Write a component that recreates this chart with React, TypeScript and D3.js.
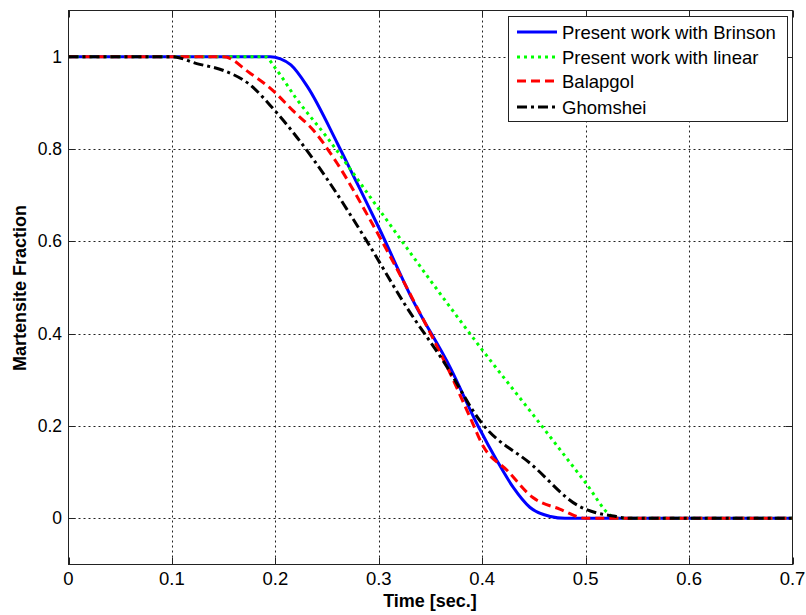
import React from "react";
import * as d3 from "d3";

const brinsonT = [0, 0.195, 0.205, 0.215, 0.231, 0.26, 0.277, 0.3, 0.333, 0.369, 0.396, 0.414, 0.43, 0.446, 0.466, 0.48, 0.7];
const brinsonY = [1, 1, 0.995, 0.982, 0.935, 0.812, 0.735, 0.63, 0.472, 0.327, 0.2, 0.126, 0.067, 0.024, 0.004, 0, 0];

const linearT = [0, 0.19, 0.2, 0.22, 0.25, 0.3, 0.35, 0.4, 0.45, 0.5, 0.525, 0.53, 0.7];
const linearY = [1, 1, 0.975, 0.91, 0.825, 0.67, 0.515, 0.365, 0.222, 0.077, 0.005, 0, 0];

const balapgolT = [0, 0.15, 0.175, 0.198, 0.217, 0.237, 0.26, 0.292, 0.337, 0.369, 0.388, 0.401, 0.424, 0.449, 0.475, 0.5, 0.7];
const balapgolY = [1, 1, 0.965, 0.926, 0.883, 0.84, 0.768, 0.645, 0.457, 0.314, 0.22, 0.156, 0.104, 0.045, 0.02, 0, 0];

const ghomsheiT = [0, 0.1, 0.124, 0.15, 0.175, 0.198, 0.221, 0.25, 0.288, 0.327, 0.362, 0.4, 0.447, 0.494, 0.51, 0.527, 0.54, 0.7];
const ghomsheiY = [1, 1, 0.985, 0.97, 0.94, 0.887, 0.825, 0.735, 0.602, 0.457, 0.342, 0.205, 0.118, 0.026, 0.012, 0.005, 0, 0];

const xTicks = [0, 0.1, 0.2, 0.3, 0.4, 0.5, 0.6, 0.7];
const yTicks = [0, 0.2, 0.4, 0.6, 0.8, 1];
const xTickLabels = ["0", "0.1", "0.2", "0.3", "0.4", "0.5", "0.6", "0.7"];
const yTickLabels = ["0", "0.2", "0.4", "0.6", "0.8", "1"];

const seriesNames = ["Present work with Brinson", "Present work with linear", "Balapgol", "Ghomshei"];
const seriesColors = ["#0000ff", "#00ff00", "#ff0000", "#000000"];
const seriesDash = ["none", "3,4", "9,5", "10,4,3,4"];

const FONT = "'Liberation Sans', Arial, Helvetica, sans-serif";

export default function App() {
  const W = 806, H = 615;
  const left = 68.5, right = 792.5, top = 10.5, bottom = 564.5;
  const x = d3.scaleLinear().domain([0, 0.7]).range([left, right]);
  const y = d3.scaleLinear().domain([-0.1, 1.1]).range([bottom, top]);

  const series = [
    brinsonT.map((t, i) => [t, brinsonY[i]]),
    linearT.map((t, i) => [t, linearY[i]]),
    balapgolT.map((t, i) => [t, balapgolY[i]]),
    ghomsheiT.map((t, i) => [t, ghomsheiY[i]]),
  ] as [number, number][][];

  const line = d3
    .line<[number, number]>()
    .x((d) => x(d[0]))
    .y((d) => y(d[1]))
    .curve(d3.curveMonotoneX);

  const tickLen = 7;
  const legX = 508.5, legY = 16.5, legW = 279, legH = 105;
  const rowY = [32, 57, 81, 107];

  return (
    <svg
      width={W}
      height={H}
      style={{ position: "absolute", left: 0, top: 0, background: "#fff" }}
      fontFamily={FONT}
    >
      <rect x={0} y={0} width={W} height={H} fill="#fff" />
      {/* grid */}
      {xTicks.slice(1, -1).map((t) => (
        <line key={"gx" + t} x1={Math.round(x(t)) + 0.5} x2={Math.round(x(t)) + 0.5} y1={top} y2={bottom} stroke="#222" strokeWidth={1} strokeDasharray="2,3" />
      ))}
      {yTicks.map((t) => (
        <line key={"gy" + t} x1={left} x2={right} y1={Math.round(y(t)) + 0.5} y2={Math.round(y(t)) + 0.5} stroke="#222" strokeWidth={1} strokeDasharray="2,3" />
      ))}
      {/* ticks */}
      {xTicks.map((t) => (
        <g key={"tx" + t}>
          <line x1={Math.round(x(t)) + 0.5} x2={Math.round(x(t)) + 0.5} y1={bottom} y2={bottom - tickLen} stroke="#222" />
          <line x1={Math.round(x(t)) + 0.5} x2={Math.round(x(t)) + 0.5} y1={top} y2={top + tickLen} stroke="#222" />
        </g>
      ))}
      {yTicks.map((t) => (
        <g key={"ty" + t}>
          <line x1={left} x2={left + tickLen} y1={Math.round(y(t)) + 0.5} y2={Math.round(y(t)) + 0.5} stroke="#222" />
          <line x1={right} x2={right - tickLen} y1={Math.round(y(t)) + 0.5} y2={Math.round(y(t)) + 0.5} stroke="#222" />
        </g>
      ))}
      {/* series */}
      {series.map((s, i) => (
        <path
          key={"s" + i}
          d={line(s) || ""}
          fill="none"
          stroke={seriesColors[i]}
          strokeWidth={3}
          strokeDasharray={seriesDash[i]}
          strokeLinejoin="round"
        />
      ))}
      {/* frame */}
      <rect x={left} y={top} width={right - left} height={bottom - top} fill="none" stroke="#222" strokeWidth={1} />
      {/* tick labels */}
      {xTicks.map((t, i) => (
        <text key={"lx" + t} x={x(t)} y={585} fontSize={18.5} textAnchor="middle" fill="#000">
          {xTickLabels[i]}
        </text>
      ))}
      {yTicks.map((t, i) => (
        <text key={"ly" + t} x={62} y={y(t) + 6} fontSize={17.5} textAnchor="end" fill="#000">
          {yTickLabels[i]}
        </text>
      ))}
      {/* axis labels */}
      <text x={430} y={607} fontSize={18} fontWeight="bold" textAnchor="middle" fill="#000">
        Time [sec.]
      </text>
      <text
        transform="translate(26,288) rotate(-90)"
        fontSize={18}
        fontWeight="bold"
        textAnchor="middle"
        fill="#000"
      >
        Martensite Fraction
      </text>
      {/* legend */}
      <rect x={legX} y={legY} width={legW} height={legH} fill="#fff" stroke="#222" strokeWidth={1} />
      {seriesNames.map((n, i) => (
        <g key={"lg" + i}>
          <line x1={517} x2={557} y1={rowY[i]} y2={rowY[i]} stroke={seriesColors[i]} strokeWidth={3} strokeDasharray={seriesDash[i]} />
          <text x={562} y={rowY[i] + 6.5} fontSize={18.5} fill="#000">
            {n}
          </text>
        </g>
      ))}
    </svg>
  );
}
